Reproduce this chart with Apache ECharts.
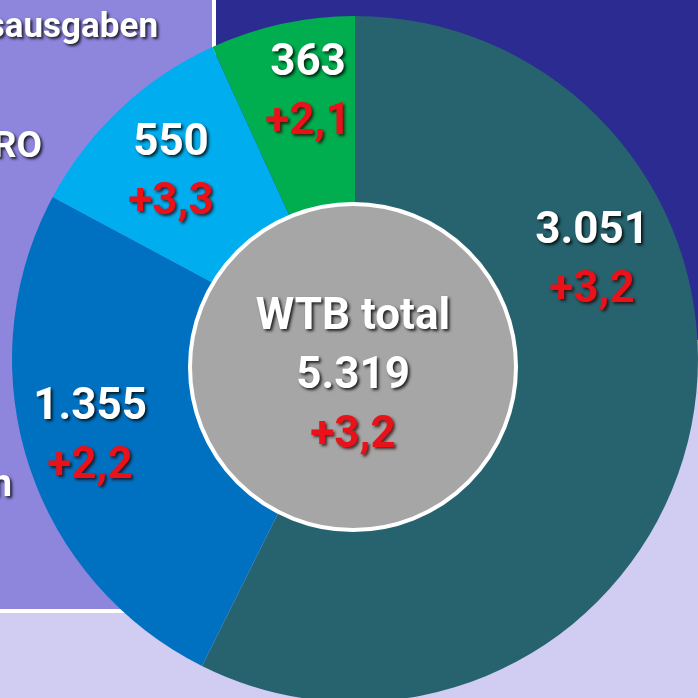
<!DOCTYPE html>
<html>
<head>
<meta charset="utf-8">
<script src="https://cdn.jsdelivr.net/npm/echarts@6/dist/echarts.min.js"></script>
<style>
  html, body { margin: 0; padding: 0; background: #d1ccf1; }
  #chart { width: 698px; height: 698px; }
</style>
</head>
<body>
<div id="chart"></div>
<script>
// ---- data ----
const categories = ['Segment 1', 'Segment 2', 'Segment 3', 'Segment 4'];
const values = [3051, 1355, 550, 363];
const changes = [3.2, 2.2, 3.3, 2.1];
const totalLabel = 'WTB total';
const totalValue = [5319];
const totalChange = [3.2];
const legendFragments = ['sausgaben', 'RO', 'n'];

// ---- style ----
const sliceColors = ['#26636f', '#0071c1', '#00aeef', '#00ae4f'];
const labelPos = [[592, 261], [90, 437], [171, 173], [308, 93]];
const FONT = '"Roboto", "Liberation Sans", sans-serif';
const shadowW = { textShadowColor: 'rgba(0,0,0,0.8)', textShadowBlur: 3, textShadowOffsetX: 2, textShadowOffsetY: 2 };
const shadowR = { textShadowColor: 'rgba(40,0,0,0.75)', textShadowBlur: 3, textShadowOffsetX: 2, textShadowOffsetY: 2 };

function fmtNum(v) { return String(v).replace(/\B(?=(\d{3})+(?!\d))/g, '.'); }
function fmtChg(v) { return '+' + v.toFixed(1).replace('.', ','); }

const rich = {
  v: Object.assign({ color: '#ffffff', fontSize: 44, fontWeight: 'bold', fontFamily: FONT, lineHeight: 59 }, shadowW),
  d: Object.assign({ color: '#ea1118', fontSize: 44, fontWeight: 'bold', fontFamily: FONT, lineHeight: 59 }, shadowR)
};

const chart = echarts.init(document.getElementById('chart'), null, { renderer: 'canvas' });

const option = {
  backgroundColor: '#d1ccf1',
  animation: false,
  graphic: [
    { type: 'rect', z: 0, shape: { x: 214, y: 0, width: 484, height: 340 }, style: { fill: '#2b2b92' } },
    { type: 'rect', z: 1, shape: { x: -10, y: -10, width: 224, height: 621, r: 10 }, style: { fill: '#8e86dd', stroke: '#ffffff', lineWidth: 4 } },
    { type: 'text', z: 1, style: Object.assign({ text: legendFragments[0], x: 158, y: 28, align: 'right', verticalAlign: 'middle', fill: '#ffffff', font: 'bold 35px ' + FONT }, shadowW) },
    { type: 'text', z: 1, style: Object.assign({ text: legendFragments[1], x: 42, y: 148, align: 'right', verticalAlign: 'middle', fill: '#ffffff', font: 'bold 37px ' + FONT }, shadowW) },
    { type: 'text', z: 1, style: Object.assign({ text: legendFragments[2], x: 12, y: 486, align: 'right', verticalAlign: 'middle', fill: '#ffffff', font: 'bold 38px ' + FONT }, shadowW) }
  ],
  series: [
    {
      type: 'pie',
      z: 3,
      center: [355, 359],
      radius: [0, 343],
      startAngle: 90,
      clockwise: true,
      silent: true,
      itemStyle: { borderWidth: 0 },
      data: categories.map((c, i) => ({ name: c, value: values[i], itemStyle: { color: sliceColors[i] } })),
      label: {
        show: true,
        position: 'inside',
        formatter: (p) => '{v|' + fmtNum(values[p.dataIndex]) + '}\n{d|' + fmtChg(changes[p.dataIndex]) + '}',
        rich: rich
      },
      labelLine: { show: false },
      labelLayout: (p) => ({ x: labelPos[p.dataIndex][0], y: labelPos[p.dataIndex][1], align: 'center', verticalAlign: 'middle' })
    },
    {
      type: 'pie',
      z: 4,
      center: [353, 367],
      radius: [0, 163],
      silent: true,
      itemStyle: { color: '#a6a6a6', borderColor: '#ffffff', borderWidth: 4 },
      data: [{ name: totalLabel, value: totalValue[0] }],
      label: {
        show: true,
        position: 'center',
        formatter: '{v|' + totalLabel + '}\n{v|' + fmtNum(totalValue[0]) + '}\n{d|' + fmtChg(totalChange[0]) + '}',
        rich: rich
      },
      labelLine: { show: false },
      labelLayout: { dy: 10 }
    }
  ]
};
chart.setOption(option);
</script>
</body>
</html>
